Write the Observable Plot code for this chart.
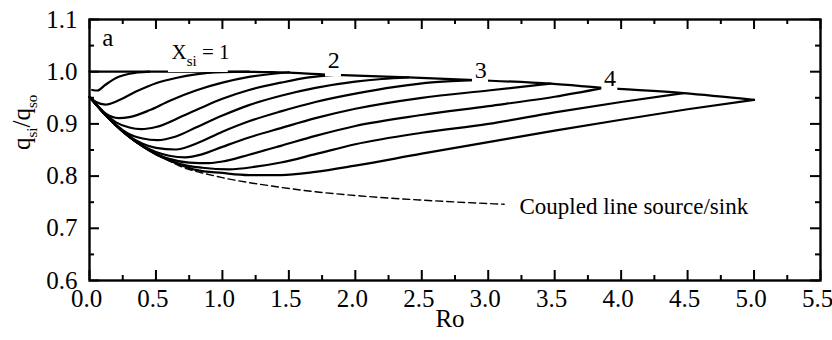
<!DOCTYPE html>
<html>
<head>
<meta charset="utf-8">
<script src="https://cdn.jsdelivr.net/npm/d3@7"></script>
<script src="https://cdn.jsdelivr.net/npm/@observablehq/plot@0.6"></script>
<style>
  body { margin: 0; background: #fff; }
  #chart svg { display: block; }
  #chart svg, #chart svg text, #chart svg tspan { font-family: "Liberation Serif", "Times New Roman", serif !important; }
</style>
</head>
<body>
<div id="chart"></div>
<script>
// Axis ticks
const xTicks = [0, 0.5, 1.0, 1.5, 2.0, 2.5, 3.0, 3.5, 4.0, 4.5, 5.0, 5.5];
const xMinor = [0.25, 0.75, 1.25, 1.75, 2.25, 2.75, 3.25, 3.75, 4.25, 4.75, 5.25];
const yTicks = [0.6, 0.7, 0.8, 0.9, 1.0, 1.1];
const yMinor = [0.65, 0.75, 0.85, 0.95, 1.05];

// q_si/q_so against Ro, one curve per X_si value: [Ro, q]
const xsi05 = [[0.02,0.965],[0.06,0.964],[0.12,0.975],[0.2,0.988],[0.3,0.996],[0.45,1.0]];
const xsi10 = [[0,0.952],[0.05,0.942],[0.12,0.937],[0.2,0.943],[0.35,0.962],[0.5,0.978],[0.65,0.988],[0.8,0.995],[1.0,0.999],[1.2,1.0]];
const xsi15 = [[0,0.952],[0.05,0.938],[0.12,0.92],[0.22,0.911],[0.3,0.913],[0.45,0.926],[0.6,0.944],[0.8,0.964],[1.0,0.979],[1.2,0.99],[1.5,0.999]];
const xsi20 = [[0,0.952],[0.1,0.923],[0.2,0.903],[0.3,0.893],[0.39,0.89],[0.5,0.894],[0.7,0.915],[0.85,0.932],[1.0,0.948],[1.2,0.965],[1.44,0.979],[1.65,0.989],[1.85,0.994]];
const xsi25 = [[0,0.952],[0.1,0.923],[0.2,0.898],[0.3,0.88],[0.4,0.872],[0.51,0.869],[0.65,0.876],[0.8,0.893],[1.0,0.916],[1.2,0.936],[1.44,0.954],[1.7,0.969],[2.0,0.981],[2.2,0.986],[2.4,0.989]];
const xsi30 = [[0,0.952],[0.1,0.923],[0.2,0.897],[0.3,0.876],[0.4,0.862],[0.5,0.854],[0.65,0.851],[0.8,0.862],[1.0,0.885],[1.2,0.905],[1.44,0.924],[1.7,0.942],[2.0,0.958],[2.3,0.971],[2.6,0.98],[2.9,0.984]];
const xsi35 = [[0,0.952],[0.1,0.923],[0.2,0.897],[0.3,0.875],[0.4,0.858],[0.5,0.846],[0.6,0.839],[0.72,0.836],[0.85,0.842],[1.0,0.856],[1.2,0.874],[1.44,0.892],[1.7,0.911],[2.0,0.929],[2.5,0.95],[3.0,0.964],[3.47,0.977]];
const xsi40 = [[0,0.952],[0.1,0.923],[0.2,0.897],[0.3,0.875],[0.4,0.857],[0.5,0.843],[0.6,0.833],[0.75,0.826],[0.9,0.825],[1.0,0.828],[1.2,0.841],[1.44,0.858],[1.7,0.877],[2.0,0.896],[2.5,0.917],[3.0,0.934],[3.5,0.952],[3.87,0.969]];
const xsi45 = [[0,0.952],[0.1,0.923],[0.2,0.897],[0.3,0.875],[0.4,0.857],[0.5,0.842],[0.6,0.831],[0.7,0.822],[0.85,0.816],[1.05,0.813],[1.25,0.818],[1.44,0.826],[1.7,0.842],[2.0,0.861],[2.5,0.883],[3.0,0.9],[3.5,0.922],[4.0,0.942],[4.47,0.959]];
const xsi50 = [[0,0.952],[0.1,0.923],[0.2,0.897],[0.3,0.875],[0.4,0.857],[0.5,0.842],[0.6,0.83],[0.7,0.82],[0.8,0.812],[1.0,0.806],[1.2,0.802],[1.44,0.802],[1.7,0.808],[2.0,0.82],[2.5,0.843],[3.0,0.865],[3.5,0.887],[4.0,0.908],[4.5,0.928],[5.0,0.946]];

// Line through the ends of the curves (Ro = X_si)
const envelope = [[0,1.0],[0.5,1.0],[1.0,1.0],[1.37,0.999],[1.85,0.994],[2.4,0.989],[2.9,0.984],[3.47,0.977],[3.87,0.969],[4.47,0.959],[5.0,0.946]];

// Coupled line source/sink solution
const coupled = [[0,0.952],[0.1,0.923],[0.2,0.897],[0.3,0.875],[0.4,0.857],[0.5,0.842],[0.6,0.829],[0.7,0.817],[0.85,0.806],[1.0,0.797],[1.37,0.781],[1.7,0.77],[2.04,0.762],[2.5,0.754],[3.12,0.746]];

const xsiValues = [0.5, 1.0, 1.5, 2.0, 2.5, 3.0, 3.5, 4.0, 4.5, 5.0];
const curves = [xsi05, xsi10, xsi15, xsi20, xsi25, xsi30, xsi35, xsi40, xsi45, xsi50];

// Curve labels sitting on the envelope
const curveLabels = [
  {text: "2", ro: 1.838, q: 1.021},
  {text: "3", ro: 2.944, q: 1.002},
  {text: "4", ro: 3.917, q: 0.987}
];

const rows = curves.flatMap((pts, i) => pts.map(([ro, q]) => ({xsi: xsiValues[i], ro, q})));
const envRows = envelope.map(([ro, q]) => ({ro, q}));
const coupledRows = coupled.map(([ro, q]) => ({ro, q}));

const W = 832, H = 340;
const mL = 89, mR = 12, mT = 19, mB = 60;
const frameW = W - mL - mR, frameH = H - mT - mB;

const serif = "Liberation Serif";
const fmt = d => d.toFixed(1);

const chart = Plot.plot({
  width: W,
  height: H,
  marginLeft: mL,
  marginRight: mR,
  marginTop: mT,
  marginBottom: mB,
  style: {fontFamily: serif, fontSize: "24px", color: "#000", background: "#fff"},
  x: {domain: [0, 5.5], axis: null},
  y: {domain: [0.6, 1.1], axis: null},
  marks: [
    Plot.line(coupledRows, {x: "ro", y: "q", curve: "monotone-x", stroke: "#000", strokeWidth: 1.4, strokeDasharray: "7,4"}),
    Plot.line(rows, {x: "ro", y: "q", z: "xsi", curve: "monotone-x", stroke: "#000", strokeWidth: 2.2}),
    Plot.line(envRows, {x: "ro", y: "q", curve: "monotone-x", stroke: "#000", strokeWidth: 2.2}),
    // white label boxes break the envelope line
    Plot.rect(curveLabels, {x1: d => d.ro - 0.062, x2: d => d.ro + 0.058, y1: d => d.q - 0.031, y2: d => d.q + 0.022, fill: "#fff"}),
    Plot.rect([{ro: 0.594, q: 1.037}], {x1: d => d.ro, x2: d => d.ro + 0.45, y1: d => d.q - 0.0385, y2: d => d.q + 0.027, fill: "#fff"}),
    Plot.text(curveLabels, {x: "ro", y: "q", text: "text", fontFamily: serif, fontSize: 24, fill: "#000"}),
    Plot.text([{ro: 0.617, q: 1.037}], {x: "ro", y: "q", text: () => "X_{si} = 1", textAnchor: "start", fontFamily: serif, fontSize: 21, fill: "#000"}),
    Plot.text([{ro: 0.095, q: 1.064}], {x: "ro", y: "q", text: () => "a", textAnchor: "start", fontFamily: serif, fontSize: 25, fill: "#000"}),
    Plot.text([{ro: 3.235, q: 0.741}], {x: "ro", y: "q", text: () => "Coupled line source/sink", textAnchor: "start", fontFamily: serif, fontSize: 23, fill: "#000"}),
    // inward ticks on all four sides
    Plot.tickX(xTicks, {x: d => d, insetTop: frameH - 10, strokeWidth: 2}),
    Plot.tickX(xMinor, {x: d => d, insetTop: frameH - 5, strokeWidth: 2}),
    Plot.tickX(xTicks, {x: d => d, insetBottom: frameH - 10, strokeWidth: 2}),
    Plot.tickX(xMinor, {x: d => d, insetBottom: frameH - 5, strokeWidth: 2}),
    Plot.tickY(yTicks, {y: d => d, insetRight: frameW - 10, strokeWidth: 2}),
    Plot.tickY(yMinor, {y: d => d, insetRight: frameW - 5, strokeWidth: 2}),
    Plot.tickY(yTicks, {y: d => d, insetLeft: frameW - 10, strokeWidth: 2}),
    Plot.tickY(yMinor, {y: d => d, insetLeft: frameW - 5, strokeWidth: 2}),
    Plot.frame({stroke: "#000", strokeWidth: 2.4}),
    // tick labels
    Plot.text(xTicks, {x: d => d, frameAnchor: "bottom", lineAnchor: "top", dy: 9, dx: -3, text: fmt, fontFamily: serif, fontSize: 25, fill: "#000"}),
    Plot.text(yTicks, {y: d => d, frameAnchor: "left", textAnchor: "end", dx: -12, text: fmt, fontFamily: serif, fontSize: 25, fill: "#000"}),
    // axis titles
    Plot.text(["Ro"], {frameAnchor: "bottom", dx: -5, dy: 46, text: d => d, fontFamily: serif, fontSize: 25, fill: "#000"}),
    Plot.text(["q_{si}/q_{so}"], {frameAnchor: "left", rotate: -90, dx: -68, dy: 0, text: d => d, fontFamily: serif, fontSize: 25, fill: "#000"})
  ]
});

// Turn "_{...}" runs into subscripts
d3.select(chart).selectAll("text").each(function () {
  const t = this.textContent;
  if (!t.includes("_{")) return;
  const el = d3.select(this);
  const base = parseFloat(el.attr("font-size")) || 24;
  el.text(null);
  const parts = t.split(/(_\{[^}]*\})/).filter(s => s.length);
  let down = false;
  const shift = Math.round(base * 0.3);
  for (const p of parts) {
    const m = p.match(/^_\{(.*)\}$/);
    if (m) {
      el.append("tspan").attr("font-size", Math.round(base * 0.62)).attr("dy", down ? null : shift).text(m[1]);
      down = true;
    } else {
      el.append("tspan").attr("dy", down ? -shift : null).text(p);
      down = false;
    }
  }
});

document.getElementById("chart").appendChild(chart);
</script>
</body>
</html>
